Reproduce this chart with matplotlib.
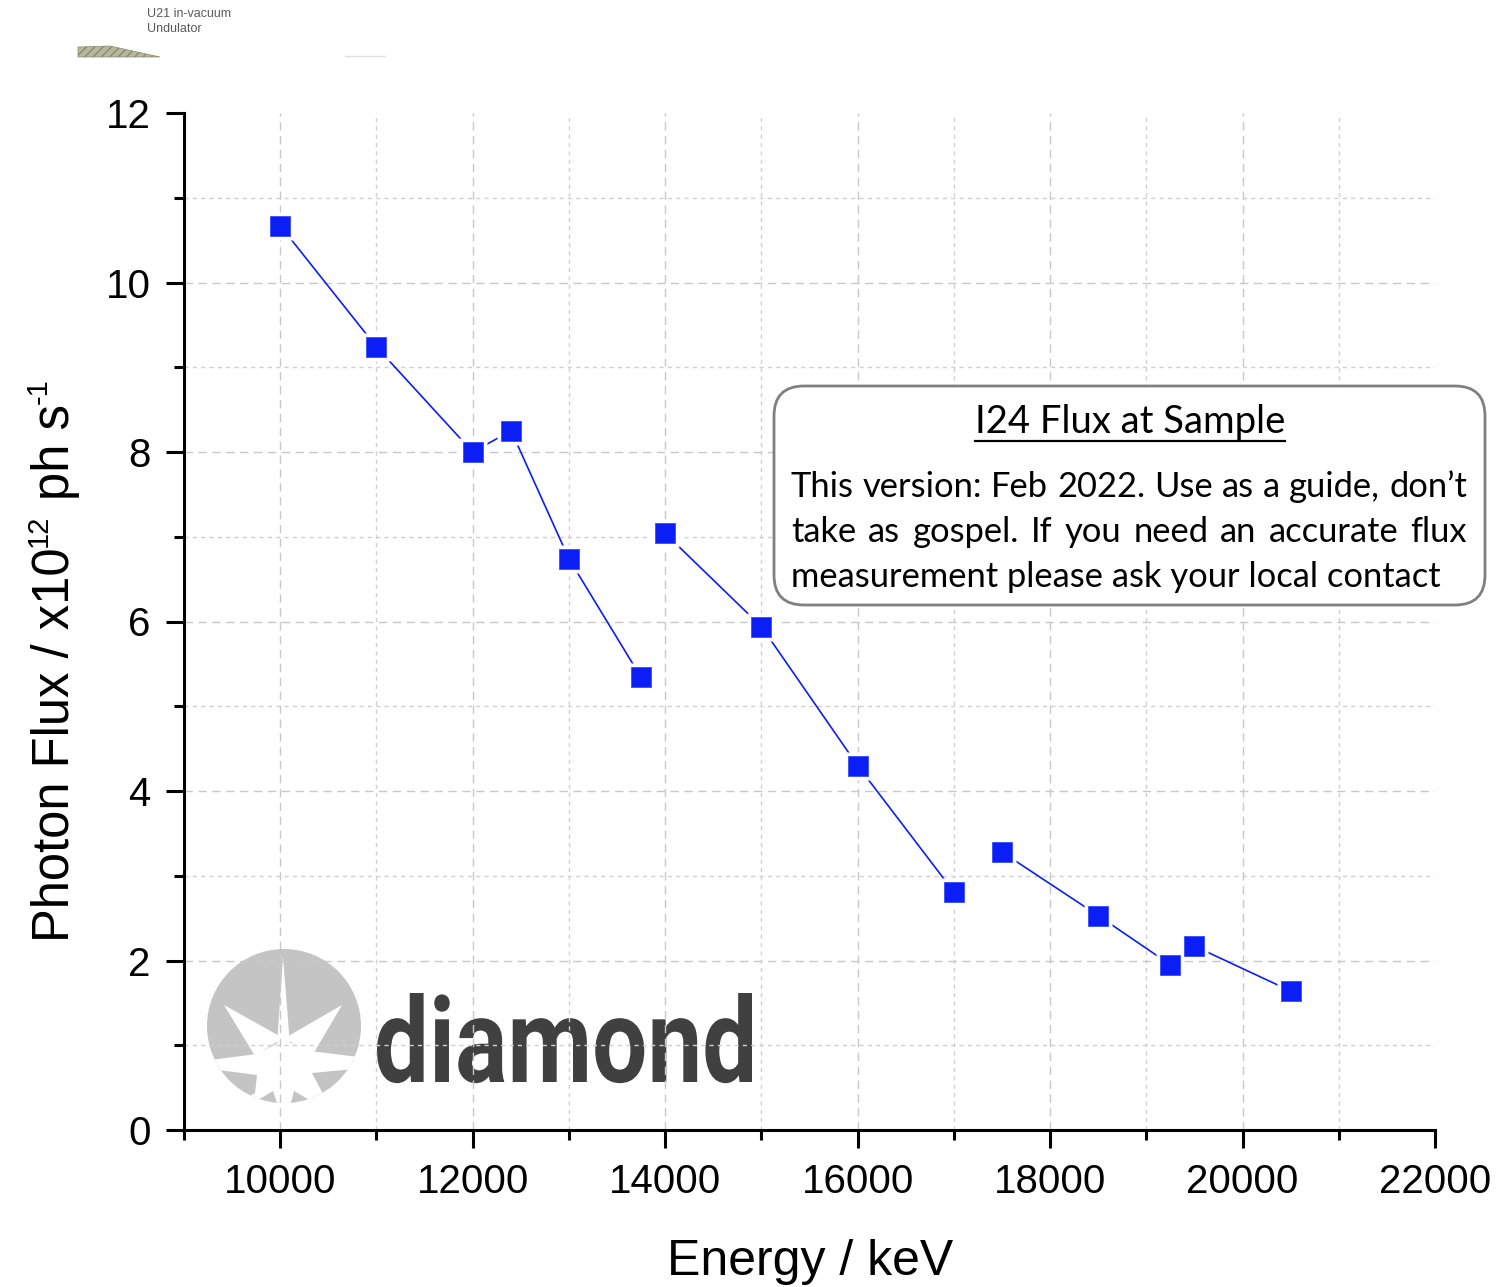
import matplotlib
matplotlib.use('Agg')
import matplotlib.pyplot as plt
from matplotlib.patches import FancyBboxPatch, Circle, Polygon, PathPatch
from matplotlib.textpath import TextPath
from matplotlib.font_manager import FontProperties
from matplotlib.transforms import Affine2D
from matplotlib.ticker import MultipleLocator, FixedLocator

# ---------------- data ----------------
energy_seg1 = [10000, 11000, 12000, 12400, 13000, 13750]
flux_seg1 = [10.67, 9.24, 8.00, 8.25, 6.74, 5.34]
energy_seg2 = [14000, 15000, 16000, 17000]
flux_seg2 = [7.04, 5.94, 4.30, 2.81]
energy_seg3 = [17500, 18500, 19250, 19500, 20500]
flux_seg3 = [3.28, 2.53, 1.95, 2.17, 1.64]

x_major_ticks = [10000, 12000, 14000, 16000, 18000, 20000, 22000]
y_major_ticks = [0, 2, 4, 6, 8, 10, 12]

x_label = 'Energy / keV'
y_label_parts = [('Photon Flux / x10', False), ('12', True), (' ', False),
                 ('ph s', False), ('-1', True)]
box_title = 'I24 Flux at Sample'
box_lines = ["This version: Feb 2022. Use as a guide, don\u2019t",
             "take as gospel. If you need an accurate flux",
             "measurement please ask your local contact"]

# ---------------- style ----------------
plt.rcParams['font.family'] = ['Liberation Sans', 'DejaVu Sans']

W, H = 1499, 1287
fig = plt.figure(figsize=(W / 100, H / 100), dpi=100)
fig.patch.set_facecolor('white')

def pix_axes(z):
    a = fig.add_axes([0, 0, 1, 1], zorder=z)
    a.set_xlim(0, W)
    a.set_ylim(H, 0)
    a.axis('off')
    a.patch.set_alpha(0)
    return a

bg = pix_axes(0)
ax = fig.add_axes([184 / W, 1 - 1130 / H, 1251 / W, 1017 / H], zorder=1)
ax.patch.set_alpha(0)
fg = pix_axes(2)

# ---------------- main plot ----------------
blue = '#0a1ef5'
for xs, ys in [(energy_seg1, flux_seg1), (energy_seg2, flux_seg2), (energy_seg3, flux_seg3)]:
    ax.plot(xs, ys, color=blue, lw=1.2, zorder=3)
    ax.plot(xs, ys, ls='none', marker='s', ms=20, mfc='white', mec='none', zorder=4)
    ax.plot(xs, ys, ls='none', marker='s', ms=15, mfc=blue, mec='#3b4cff', mew=0.6, zorder=5)

ax.set_xlim(9000, 22000)
ax.set_ylim(0, 12)
ax.xaxis.set_major_locator(FixedLocator(x_major_ticks))
ax.xaxis.set_minor_locator(MultipleLocator(1000))
ax.yaxis.set_major_locator(FixedLocator(y_major_ticks))
ax.yaxis.set_minor_locator(MultipleLocator(1))

for s in ['top', 'right']:
    ax.spines[s].set_visible(False)
for s in ['left', 'bottom']:
    ax.spines[s].set_linewidth(2.2)

ax.tick_params(which='major', direction='out', length=13, width=2.2, labelsize=29, pad=11)
ax.tick_params(which='minor', direction='out', length=7, width=2.2)
ax.tick_params(axis='y', which='major', pad=11)

ax.grid(which='major', color='#c8c8c8', lw=1.0, ls=(0, (6, 4)))
ax.grid(which='minor', color='#d0d0d0', lw=1.0, ls=(0, (3, 3)))
ax.set_axisbelow(True)

# ---------------- logo (behind grid) ----------------
circ = Circle((284, 1026), 77, facecolor='#c4c4c4', edgecolor='none')
bg.add_patch(circ)
white_shapes = [
    [(283, 957), (277, 1045), (290, 1045)],                       # up spike
    [(224, 1005), (255, 1056), (283, 1038)],                      # upper-left spike
    [(342, 1005), (285, 1038), (312, 1056)],                      # upper-right spike
    [(195, 1062), (257, 1054), (284, 1040), (310, 1051), (375, 1059),
     (375, 1115), (195, 1115)],                                   # lower white area
]
gray_shapes = [
    [(195, 1067), (257, 1075), (255, 1093), (240, 1102), (195, 1102)],   # lower-left piece
    [(312, 1073), (375, 1067), (375, 1102), (330, 1102), (322, 1092)],   # lower-right piece
    [(273, 1091), (248, 1106), (278, 1106)],                             # small bottom-left
    [(294, 1091), (290, 1106), (320, 1106)],                             # small bottom-right
]
for pts in white_shapes:
    p = Polygon(pts, closed=True, facecolor='white', edgecolor='none')
    bg.add_patch(p)
    p.set_clip_path(circ)
for pts in gray_shapes:
    p = Polygon(pts, closed=True, facecolor='#c4c4c4', edgecolor='none')
    bg.add_patch(p)
    p.set_clip_path(circ)

tp = TextPath((0, 0), 'diamond', size=100, prop=FontProperties(family='Roboto', weight='bold'))
ext = tp.get_extents()
sx = (752 - 377) / ext.width
sy = (1082 - 993) / ext.y1
trans = Affine2D().translate(-ext.x0, 0).scale(sx, -sy).translate(377, 1082)
bg.add_patch(PathPatch(trans.transform_path(tp), facecolor='#404040', edgecolor='none'))

# ---------------- top-left snippet ----------------
bg.text(147, 14, 'U21 in-vacuum', fontsize=9, color='#5a5a5a', va='center', ha='left')
bg.text(147, 29, 'Undulator', fontsize=9, color='#5a5a5a', va='center', ha='left')
bg.add_patch(Polygon([(78, 47), (110, 46), (160, 57), (78, 57)], closed=True,
                     facecolor='#b8b8a0', edgecolor='#8a8a70', hatch='////', lw=0.5))
bg.plot([345, 385], [56, 56], color='#e0e0e0', lw=1)

# ---------------- annotation box ----------------
box = FancyBboxPatch((774, 386), 711, 219, boxstyle='round,pad=0,rounding_size=30',
                     facecolor='white', edgecolor='#808080', lw=2.0)
fg.add_patch(box)

fig.canvas.draw()
r = fig.canvas.get_renderer()
def tw(s, prop):
    w, h, d = r.get_text_width_height_descent(s, prop, ismath=False)
    return w

# ---------------- axis labels ----------------
fg.text(810, 1262, x_label, fontsize=36, ha='center', va='center')

p_main = FontProperties(family='Liberation Sans', size=36.5)
p_sup = FontProperties(family='Liberation Sans', size=21)
space_w = tw('a a', p_main) - tw('aa', p_main)
y_pos = 942
base_x = 69
for txt, sup in y_label_parts:
    if txt == ' ':
        y_pos -= space_w
        continue
    prop = p_sup if sup else p_main
    xb = base_x - 22 if sup else base_x
    fg.text(xb, y_pos, txt, fontproperties=prop, rotation=90, rotation_mode='anchor',
            ha='left', va='baseline')
    y_pos -= tw(txt, prop) + (1 if sup else 0)

# ---------------- box text ----------------
fam = 'Lato'
p10 = FontProperties(family=fam, size=10)
fs_body = 10 * 650 / tw(box_lines[2], p10)
fs_title = 10 * 309 / tw(box_title, p10)

pt = FontProperties(family=fam, size=fs_title)
fg.text(1130, 433, box_title, fontproperties=pt, ha='center', va='baseline')
wt = tw(box_title, pt)
fg.plot([1130 - wt / 2, 1130 + wt / 2], [441, 441], color='black', lw=1.6)

pb = FontProperties(family=fam, size=fs_body)
baselines = [497, 542, 587]
x_left, x_right = 791, 1467
for i, (line, yb) in enumerate(zip(box_lines, baselines)):
    if i < len(box_lines) - 1:
        words = line.split(' ')
        widths = [tw(wd, pb) for wd in words]
        gap = (x_right - x_left - sum(widths)) / (len(words) - 1)
        x = x_left
        for wd, wdt in zip(words, widths):
            fg.text(x, yb, wd, fontproperties=pb, ha='left', va='baseline')
            x += wdt + gap
    else:
        fg.text(x_left, yb, line, fontproperties=pb, ha='left', va='baseline')

# hide gridlines at the plot's top / right limits
fig.canvas.draw()
for t in ax.yaxis.get_major_ticks():
    if abs(t.get_loc() - 12) < 1e-6:
        t.gridline.set_visible(False)
for t in ax.xaxis.get_major_ticks():
    if abs(t.get_loc() - 22000) < 1e-6:
        t.gridline.set_visible(False)

fig.savefig('out.png', dpi=100, facecolor='white')
